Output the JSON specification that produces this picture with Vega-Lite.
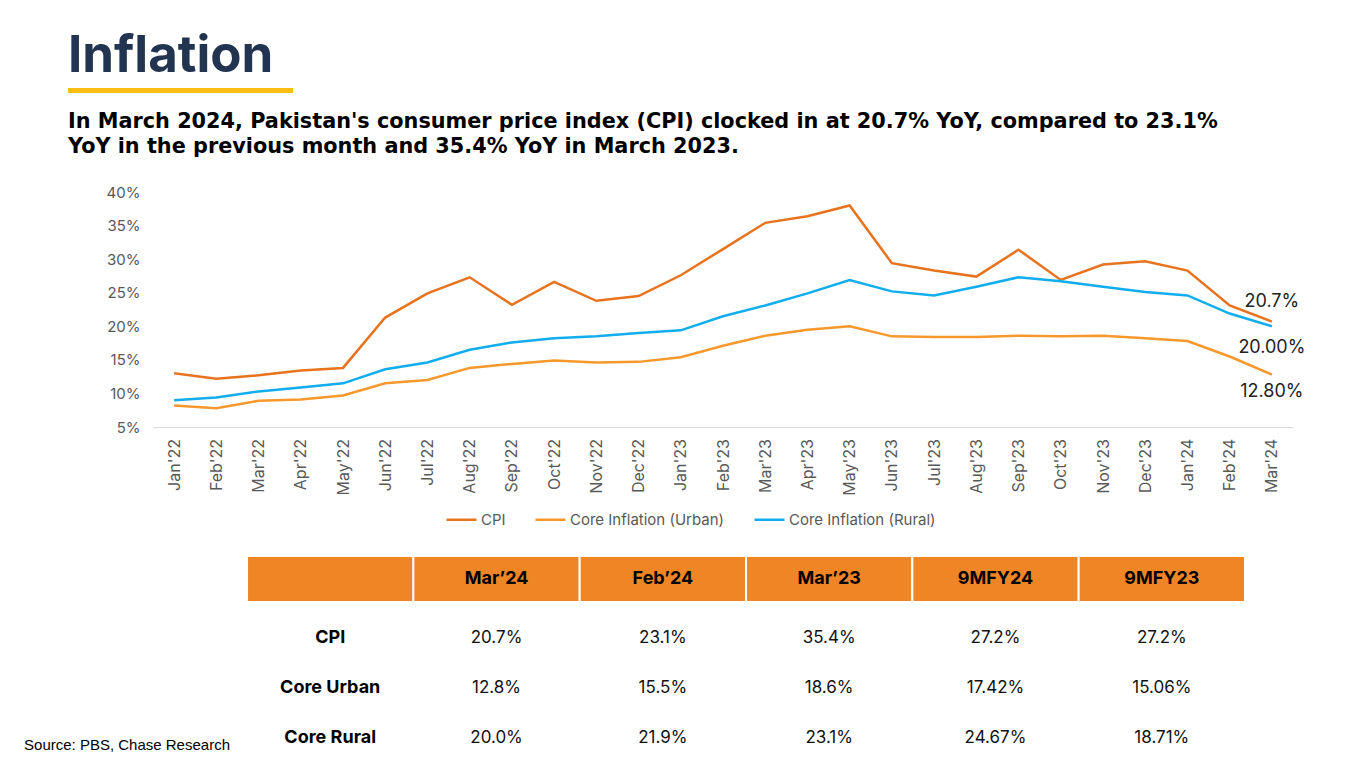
{
  "$schema": "https://vega.github.io/schema/vega-lite/v6.json",
  "background": "#ffffff",
  "padding": {"left": 24, "top": 31, "right": 10, "bottom": 0},
  "spacing": 17,
  "config": {
    "font": "Inter",
    "view": {"stroke": null},
    "text": {"font": "Inter"},
    "axisY": {"labelOverlap": false, "labelSeparation": 0},
    "axisQuantitative": {"labelOverlap": false}
  },
  "resolve": {"scale": {"color": "independent"}, "legend": {"color": "independent"}},
  "datasets": {
    "inflation": [
      {"month": "Jan'22", "series": "CPI", "value": 13.0},
      {"month": "Feb'22", "series": "CPI", "value": 12.2},
      {"month": "Mar'22", "series": "CPI", "value": 12.7},
      {"month": "Apr'22", "series": "CPI", "value": 13.4},
      {"month": "May'22", "series": "CPI", "value": 13.8},
      {"month": "Jun'22", "series": "CPI", "value": 21.3},
      {"month": "Jul'22", "series": "CPI", "value": 24.9},
      {"month": "Aug'22", "series": "CPI", "value": 27.3},
      {"month": "Sep'22", "series": "CPI", "value": 23.2},
      {"month": "Oct'22", "series": "CPI", "value": 26.6},
      {"month": "Nov'22", "series": "CPI", "value": 23.8},
      {"month": "Dec'22", "series": "CPI", "value": 24.5},
      {"month": "Jan'23", "series": "CPI", "value": 27.6},
      {"month": "Feb'23", "series": "CPI", "value": 31.5},
      {"month": "Mar'23", "series": "CPI", "value": 35.4},
      {"month": "Apr'23", "series": "CPI", "value": 36.4},
      {"month": "May'23", "series": "CPI", "value": 38.0},
      {"month": "Jun'23", "series": "CPI", "value": 29.4},
      {"month": "Jul'23", "series": "CPI", "value": 28.3},
      {"month": "Aug'23", "series": "CPI", "value": 27.4},
      {"month": "Sep'23", "series": "CPI", "value": 31.4},
      {"month": "Oct'23", "series": "CPI", "value": 26.9},
      {"month": "Nov'23", "series": "CPI", "value": 29.2},
      {"month": "Dec'23", "series": "CPI", "value": 29.7},
      {"month": "Jan'24", "series": "CPI", "value": 28.3},
      {"month": "Feb'24", "series": "CPI", "value": 23.1},
      {"month": "Mar'24", "series": "CPI", "value": 20.7},
      {"month": "Jan'22", "series": "Core Inflation (Urban)", "value": 8.2},
      {"month": "Feb'22", "series": "Core Inflation (Urban)", "value": 7.8},
      {"month": "Mar'22", "series": "Core Inflation (Urban)", "value": 8.9},
      {"month": "Apr'22", "series": "Core Inflation (Urban)", "value": 9.1},
      {"month": "May'22", "series": "Core Inflation (Urban)", "value": 9.7},
      {"month": "Jun'22", "series": "Core Inflation (Urban)", "value": 11.5},
      {"month": "Jul'22", "series": "Core Inflation (Urban)", "value": 12.0},
      {"month": "Aug'22", "series": "Core Inflation (Urban)", "value": 13.8},
      {"month": "Sep'22", "series": "Core Inflation (Urban)", "value": 14.4},
      {"month": "Oct'22", "series": "Core Inflation (Urban)", "value": 14.9},
      {"month": "Nov'22", "series": "Core Inflation (Urban)", "value": 14.6},
      {"month": "Dec'22", "series": "Core Inflation (Urban)", "value": 14.7},
      {"month": "Jan'23", "series": "Core Inflation (Urban)", "value": 15.4},
      {"month": "Feb'23", "series": "Core Inflation (Urban)", "value": 17.1},
      {"month": "Mar'23", "series": "Core Inflation (Urban)", "value": 18.6},
      {"month": "Apr'23", "series": "Core Inflation (Urban)", "value": 19.5},
      {"month": "May'23", "series": "Core Inflation (Urban)", "value": 20.0},
      {"month": "Jun'23", "series": "Core Inflation (Urban)", "value": 18.5},
      {"month": "Jul'23", "series": "Core Inflation (Urban)", "value": 18.4},
      {"month": "Aug'23", "series": "Core Inflation (Urban)", "value": 18.4},
      {"month": "Sep'23", "series": "Core Inflation (Urban)", "value": 18.6},
      {"month": "Oct'23", "series": "Core Inflation (Urban)", "value": 18.5},
      {"month": "Nov'23", "series": "Core Inflation (Urban)", "value": 18.6},
      {"month": "Dec'23", "series": "Core Inflation (Urban)", "value": 18.2},
      {"month": "Jan'24", "series": "Core Inflation (Urban)", "value": 17.8},
      {"month": "Feb'24", "series": "Core Inflation (Urban)", "value": 15.5},
      {"month": "Mar'24", "series": "Core Inflation (Urban)", "value": 12.8},
      {"month": "Jan'22", "series": "Core Inflation (Rural)", "value": 9.0},
      {"month": "Feb'22", "series": "Core Inflation (Rural)", "value": 9.4},
      {"month": "Mar'22", "series": "Core Inflation (Rural)", "value": 10.3},
      {"month": "Apr'22", "series": "Core Inflation (Rural)", "value": 10.9},
      {"month": "May'22", "series": "Core Inflation (Rural)", "value": 11.5},
      {"month": "Jun'22", "series": "Core Inflation (Rural)", "value": 13.6},
      {"month": "Jul'22", "series": "Core Inflation (Rural)", "value": 14.6},
      {"month": "Aug'22", "series": "Core Inflation (Rural)", "value": 16.5},
      {"month": "Sep'22", "series": "Core Inflation (Rural)", "value": 17.6},
      {"month": "Oct'22", "series": "Core Inflation (Rural)", "value": 18.2},
      {"month": "Nov'22", "series": "Core Inflation (Rural)", "value": 18.5},
      {"month": "Dec'22", "series": "Core Inflation (Rural)", "value": 19.0},
      {"month": "Jan'23", "series": "Core Inflation (Rural)", "value": 19.4},
      {"month": "Feb'23", "series": "Core Inflation (Rural)", "value": 21.5},
      {"month": "Mar'23", "series": "Core Inflation (Rural)", "value": 23.1},
      {"month": "Apr'23", "series": "Core Inflation (Rural)", "value": 24.9},
      {"month": "May'23", "series": "Core Inflation (Rural)", "value": 26.9},
      {"month": "Jun'23", "series": "Core Inflation (Rural)", "value": 25.2},
      {"month": "Jul'23", "series": "Core Inflation (Rural)", "value": 24.6},
      {"month": "Aug'23", "series": "Core Inflation (Rural)", "value": 25.9},
      {"month": "Sep'23", "series": "Core Inflation (Rural)", "value": 27.3},
      {"month": "Oct'23", "series": "Core Inflation (Rural)", "value": 26.7},
      {"month": "Nov'23", "series": "Core Inflation (Rural)", "value": 25.9},
      {"month": "Dec'23", "series": "Core Inflation (Rural)", "value": 25.1},
      {"month": "Jan'24", "series": "Core Inflation (Rural)", "value": 24.6},
      {"month": "Feb'24", "series": "Core Inflation (Rural)", "value": 21.9},
      {"month": "Mar'24", "series": "Core Inflation (Rural)", "value": 20.0}
    ],
    "endLabels": [
      {"month": "Mar'24", "series": "CPI", "value": 20.7, "label": "20.7%"},
      {"month": "Mar'24", "series": "Core Inflation (Rural)", "value": 20.0, "label": "20.00%"},
      {"month": "Mar'24", "series": "Core Inflation (Urban)", "value": 12.8, "label": "12.80%"}
    ],
    "header": [
      {"period": "Metric", "label": ""},
      {"period": "Mar’24", "label": "Mar’24"},
      {"period": "Feb’24", "label": "Feb’24"},
      {"period": "Mar’23", "label": "Mar’23"},
      {"period": "9MFY24", "label": "9MFY24"},
      {"period": "9MFY23", "label": "9MFY23"}
    ],
    "rows": [
      {"metric": "CPI"},
      {"metric": "Core Urban"},
      {"metric": "Core Rural"}
    ],
    "table": [
      {"metric": "CPI", "period": "Mar’24", "display": "20.7%"},
      {"metric": "CPI", "period": "Feb’24", "display": "23.1%"},
      {"metric": "CPI", "period": "Mar’23", "display": "35.4%"},
      {"metric": "CPI", "period": "9MFY24", "display": "27.2%"},
      {"metric": "CPI", "period": "9MFY23", "display": "27.2%"},
      {"metric": "Core Urban", "period": "Mar’24", "display": "12.8%"},
      {"metric": "Core Urban", "period": "Feb’24", "display": "15.5%"},
      {"metric": "Core Urban", "period": "Mar’23", "display": "18.6%"},
      {"metric": "Core Urban", "period": "9MFY24", "display": "17.42%"},
      {"metric": "Core Urban", "period": "9MFY23", "display": "15.06%"},
      {"metric": "Core Rural", "period": "Mar’24", "display": "20.0%"},
      {"metric": "Core Rural", "period": "Feb’24", "display": "21.9%"},
      {"metric": "Core Rural", "period": "Mar’23", "display": "23.1%"},
      {"metric": "Core Rural", "period": "9MFY24", "display": "24.67%"},
      {"metric": "Core Rural", "period": "9MFY23", "display": "18.71%"}
    ],
    "source": [
      {"note": "Source: PBS, Chase Research"}
    ]
  },
  "vconcat": [
    {
      "width": 225,
      "height": 5,
      "view": {"fill": "#F9BE14", "stroke": null},
      "title": {"text": "Inflation", "anchor": "start", "fontSize": 51, "fontWeight": 700, "color": "#22344F", "font": "Inter", "offset": 5},
      "data": {"values": []},
      "mark": {"type": "rule"},
      "encoding": {}
    },
    {
      "title": {
        "text": ["In March 2024, Pakistan's consumer price index (CPI) clocked in at 20.7% YoY, compared to 23.1%", "YoY in the previous month and 35.4% YoY in March 2023."],
        "anchor": "start", "fontSize": 20.8, "fontWeight": 700, "color": "#000000", "font": "DejaVu Sans", "lineHeight": 25, "offset": 27.5
      },
      "bounds": "flush",
      "spacing": 0,
      "resolve": {"scale": {"color": "independent"}, "legend": {"color": "independent"}},
      "hconcat": [
        {
          "width": 85,
          "height": 235,
          "data": {"values": []},
          "mark": {"type": "rule"},
          "encoding": {}
        },
        {
          "width": 1140,
          "height": 235,
          "encoding": {
            "x": {
              "field": "month", "type": "ordinal", "sort": null,
              "scale": {"type": "point", "padding": 0.5},
              "axis": {"title": null, "labelAngle": 270, "labelFontSize": 16, "labelColor": "#595959", "labelFont": "Inter", "ticks": false, "grid": false, "domainColor": "#D9D9D9", "domainWidth": 1, "labelPadding": 11.5}
            },
            "y": {
              "field": "value", "type": "quantitative",
              "scale": {"domain": [5, 40], "nice": false, "zero": false},
              "axis": {"title": null, "values": [5, 10, 15, 20, 25, 30, 35, 40], "labelExpr": "datum.value + '%'", "labelOverlap": false, "labelSeparation": 0, "labelFontSize": 15, "labelColor": "#595959", "labelFont": "Inter", "ticks": false, "domain": false, "grid": false, "labelPadding": 13}
            }
          },
          "layer": [
            {
              "data": {"name": "inflation"},
              "mark": {"type": "line", "strokeWidth": 2.5},
              "encoding": {
                "color": {
                  "field": "series", "type": "nominal",
                  "scale": {"domain": ["CPI", "Core Inflation (Urban)", "Core Inflation (Rural)"], "range": ["#E8731F", "#F7982D", "#12ADEE"]},
                  "legend": {"orient": "none", "legendX": 282, "legendY": 301, "direction": "horizontal", "title": null, "symbolType": "stroke", "symbolSize": 900, "symbolStrokeWidth": 2.5, "labelFontSize": 15, "labelColor": "#595959", "labelFont": "Inter", "columnPadding": 24, "labelOffset": 3, "padding": 10}
                }
              }
            },
            {
              "data": {"name": "endLabels"},
              "transform": [{"filter": "datum.series === 'CPI'"}],
              "mark": {"type": "text", "fontSize": 18, "color": "#222222", "dy": -20},
              "encoding": {"text": {"field": "label"}}
            },
            {
              "data": {"name": "endLabels"},
              "transform": [{"filter": "datum.series === 'Core Inflation (Rural)'"}],
              "mark": {"type": "text", "fontSize": 18, "color": "#222222", "dy": 22},
              "encoding": {"text": {"field": "label"}}
            },
            {
              "data": {"name": "endLabels"},
              "transform": [{"filter": "datum.series === 'Core Inflation (Urban)'"}],
              "mark": {"type": "text", "fontSize": 18, "color": "#222222", "dy": 17},
              "encoding": {"text": {"field": "label"}}
            }
          ]
        }
      ]
    },
    {
      "width": 1177,
      "height": 46,
      "data": {"name": "header"},
      "layer": [
        {
          "mark": {"type": "rect", "fill": "#F08526", "stroke": "#FFFFFF", "strokeWidth": 2},
          "encoding": {
            "x": {"field": "period", "type": "nominal", "sort": null,
              "scale": {"type": "band", "domain": ["Metric", "Mar’24", "Feb’24", "Mar’23", "9MFY24", "9MFY23"], "paddingInner": 0, "paddingOuter": 0.5382, "align": 1},
              "axis": null}
          }
        },
        {
          "mark": {"type": "text", "fontSize": 18, "fontWeight": 700, "color": "#000000"},
          "encoding": {
            "x": {"field": "period", "type": "nominal", "sort": null},
            "text": {"field": "label"}
          }
        }
      ]
    },
    {
      "width": 1177,
      "height": 130,
      "encoding": {
        "x": {"scale": {"type": "band", "domain": ["Metric", "Mar’24", "Feb’24", "Mar’23", "9MFY24", "9MFY23"], "paddingInner": 0, "paddingOuter": 0.5382, "align": 1}, "axis": null},
        "y": {"scale": {"type": "point", "domain": ["CPI", "Core Urban", "Core Rural"], "padding": 0.3, "align": 0.6}, "axis": null}
      },
      "layer": [
        {
          "data": {"name": "rows"},
          "mark": {"type": "text", "fontSize": 18, "fontWeight": 700, "color": "#000000"},
          "encoding": {
            "x": {"datum": "Metric", "type": "nominal"},
            "y": {"field": "metric", "type": "nominal"},
            "text": {"field": "metric"}
          }
        },
        {
          "data": {"name": "table"},
          "mark": {"type": "text", "fontSize": 17, "color": "#111111"},
          "encoding": {
            "x": {"field": "period", "type": "nominal"},
            "y": {"field": "metric", "type": "nominal"},
            "text": {"field": "display"}
          }
        },
        {
          "data": {"name": "source"},
          "mark": {"type": "text", "fontSize": 15, "font": "Liberation Sans", "color": "#000000", "align": "left", "dx": -223, "dy": 7},
          "encoding": {
            "x": {"datum": "Metric", "type": "nominal", "bandPosition": 0},
            "y": {"datum": "Core Rural", "type": "nominal"},
            "text": {"field": "note"}
          }
        }
      ]
    }
  ]
}
